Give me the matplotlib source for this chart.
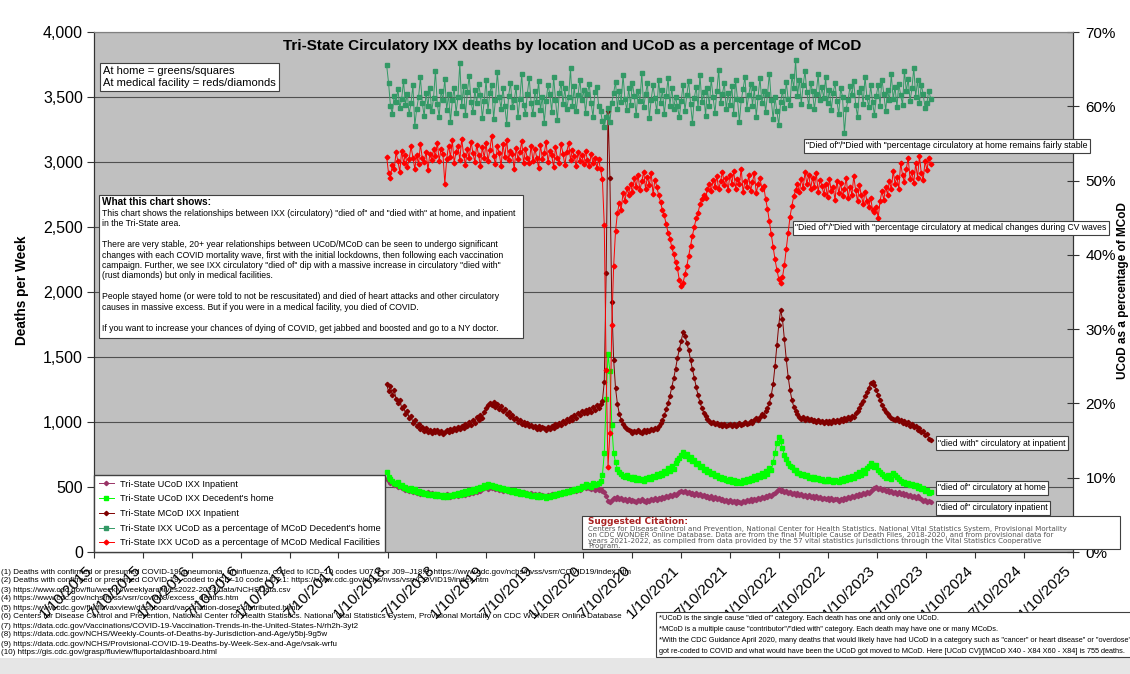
import numpy as np
import pandas as pd
import matplotlib
matplotlib.use('Agg')
import matplotlib.pyplot as plt
from matplotlib.patches import Rectangle
from matplotlib.ticker import FuncFormatter, MultipleLocator
from matplotlib.transforms import ScaledTranslation

W, H = 1130, 674

# weekly data, first week ending 2018-01-06
first_week = '2018-01-06'

tick_labels = ["1/10/2015", "7/10/2015", "1/10/2016", "7/10/2016", "1/10/2017",
               "7/10/2017", "1/10/2018", "7/10/2018", "1/10/2019", "7/10/2019",
               "1/10/2020", "7/10/2020", "1/10/2021", "7/10/2021", "1/10/2022",
               "7/10/2022", "1/10/2023", "7/10/2023", "1/10/2024", "7/10/2024",
               "1/10/2025"]

# deaths per week (left axis), one line per half year
ucod_inpatient = (
    [562, 548, 530, 541, 512, 526, 498, 517, 489, 503, 476, 492, 470, 481, 462, 474, 455, 468, 449, 461, 452, 445, 458, 440, 451, 437] +
    [446, 432, 441, 428, 437, 425, 443, 430, 421, 439, 427, 445, 433, 448, 438, 452, 441, 457, 446, 463, 455, 470, 461, 476, 468, 483] +
    [495, 510, 488, 502, 493, 507, 484, 497, 479, 490, 472, 486, 468, 480, 463, 474, 458, 470, 452, 465, 447, 460, 443, 455, 440, 451] +
    [436, 447, 431, 444, 428, 440, 434, 425, 439, 430, 445, 436, 450, 441, 456, 447, 462, 453, 469, 460, 475, 466, 481, 473, 488, 480] +
    [496, 508, 489, 502, 494, 485, 498, 479, 491, 474, 486, 470, 462, 430, 395, 382, 401, 418, 410, 423, 404, 416, 398, 411, 393, 405] +
    [389, 402, 395, 384, 398, 390, 405, 393, 386, 400, 392, 408, 397, 412, 403, 418, 409, 424, 415, 431, 422, 437, 429, 444, 436, 450] +
    [458, 471, 462, 468, 455, 464, 449, 457, 441, 452, 436, 445, 429, 439, 423, 432, 417, 427, 410, 421, 404, 414, 398, 409, 393, 402] +
    [388, 397, 383, 394, 379, 390, 385, 376, 392, 383, 398, 389, 404, 395, 411, 402, 418, 409, 425, 416, 433, 424, 441, 432, 449, 456] +
    [470, 482, 468, 476, 459, 470, 452, 463, 446, 457, 440, 451, 435, 446, 430, 441, 426, 437, 421, 432, 417, 428, 413, 424, 409, 419] +
    [405, 416, 401, 413, 398, 410, 404, 395, 409, 400, 415, 406, 421, 413, 428, 420, 436, 427, 444, 435, 452, 443, 461, 452, 470, 482] +
    [489, 497, 481, 490, 474, 484, 468, 477, 461, 471, 455, 464, 449, 458, 443, 452, 437, 446, 431, 440, 425, 434, 419, 428, 412, 406, 396, 403, 388, 395, 384]
)

ucod_home = (
    [615, 580, 562, 548, 530, 521, 538, 509, 516, 495, 503, 488, 476, 492, 468, 481, 459, 470, 452, 463, 447, 455, 441, 450, 436, 446] +
    [432, 444, 428, 439, 425, 436, 421, 433, 440, 427, 446, 435, 452, 441, 460, 449, 468, 456, 475, 464, 484, 472, 493, 481, 502, 491] +
    [512, 500, 521, 507, 515, 498, 509, 490, 501, 484, 495, 476, 488, 470, 480, 463, 474, 456, 466, 450, 460, 445, 453, 439, 447, 433] +
    [428, 441, 424, 437, 420, 433, 428, 418, 432, 423, 438, 429, 445, 436, 452, 443, 460, 451, 468, 459, 477, 468, 486, 476, 495, 485] +
    [510, 498, 522, 506, 515, 503, 527, 512, 521, 534, 548, 590, 760, 1180, 1520, 1390, 980, 760, 690, 642, 615, 598, 586, 574, 590, 568] +
    [580, 562, 575, 556, 569, 551, 563, 548, 572, 558, 579, 565, 588, 574, 598, 583, 610, 596, 625, 608, 643, 622, 664, 641, 688, 705] +
    [722, 748, 768, 741, 755, 719, 733, 697, 708, 675, 684, 652, 661, 631, 642, 615, 624, 598, 609, 584, 593, 571, 580, 562, 571, 553] +
    [545, 562, 538, 555, 531, 549, 541, 528, 553, 537, 561, 545, 570, 553, 581, 562, 592, 574, 606, 588, 622, 603, 645, 628, 690, 760] +
    [842, 885, 851, 798, 746, 712, 688, 665, 652, 634, 628, 611, 605, 592, 598, 581, 589, 572, 580, 565, 574, 558, 569, 553, 562, 548] +
    [548, 561, 544, 557, 540, 553, 547, 536, 558, 545, 566, 552, 575, 561, 586, 571, 598, 584, 612, 596, 628, 611, 648, 660, 682, 671] +
    [655, 668, 631, 612, 598, 585, 571, 590, 578, 562, 605, 592, 574, 560, 548, 531, 540, 522, 533, 515, 526, 508, 518, 496, 505, 485, 494, 470, 478, 452, 460]
)

mcod_inpatient = (
    [1290, 1235, 1275, 1210, 1245, 1180, 1150, 1172, 1108, 1125, 1064, 1082, 1030, 1046, 995, 1012, 968, 985, 948, 962, 934, 951, 925, 942, 918, 936] +
    [922, 940, 915, 931, 908, 926, 938, 920, 945, 928, 952, 936, 960, 944, 972, 955, 985, 966, 1001, 980, 1018, 995, 1036, 1012, 1055, 1030] +
    [1078, 1105, 1132, 1150, 1128, 1156, 1118, 1140, 1102, 1121, 1085, 1098, 1064, 1075, 1042, 1056, 1020, 1034, 1003, 1015, 988, 1001, 975, 990, 966, 980] +
    [958, 972, 950, 966, 945, 960, 953, 940, 962, 948, 970, 955, 981, 966, 994, 978, 1008, 990, 1022, 1004, 1037, 1018, 1053, 1034, 1070, 1052] +
    [1088, 1072, 1095, 1068, 1102, 1080, 1115, 1092, 1128, 1106, 1140, 1160, 1310, 2150, 3390, 2880, 1920, 1480, 1260, 1140, 1065, 1018, 985, 962, 948, 935] +
    [928, 915, 934, 921, 940, 926, 918, 935, 922, 941, 930, 948, 938, 957, 950, 972, 990, 1018, 1052, 1098, 1145, 1202, 1268, 1335, 1410, 1490] +
    [1560, 1625, 1690, 1665, 1610, 1552, 1478, 1405, 1340, 1268, 1205, 1152, 1108, 1072, 1045, 1022, 1005, 992, 1001, 985, 994, 978, 987, 970, 982, 966] +
    [975, 988, 970, 982, 966, 979, 990, 974, 985, 998, 981, 995, 1008, 990, 1015, 1028, 1012, 1040, 1062, 1048, 1085, 1110, 1148, 1205, 1290, 1430] +
    [1590, 1745, 1862, 1790, 1640, 1485, 1350, 1248, 1170, 1118, 1082, 1058, 1040, 1026, 1035, 1018, 1029, 1012, 1024, 1008, 1019, 1003, 1015, 998, 1011, 995] +
    [1004, 990, 1008, 994, 1012, 998, 1016, 1003, 1021, 1008, 1027, 1015, 1036, 1024, 1050, 1042, 1068, 1085, 1110, 1138, 1165, 1198, 1232, 1265, 1298, 1310] +
    [1285, 1248, 1205, 1168, 1130, 1102, 1078, 1060, 1043, 1031, 1020, 1012, 1028, 1005, 1018, 996, 1010, 985, 998, 972, 984, 958, 968, 940, 952, 921, 930, 898, 905, 872, 858]
)

# UCoD as % of MCoD (right axis)
pct_home = (
    [65.5, 63.2, 60.1, 59.0, 61.4, 60.6, 62.3, 59.8, 61.0, 63.4, 60.2, 61.7, 58.9, 60.5, 62.8, 57.4, 59.6, 61.2, 63.9, 60.4, 58.7, 61.8, 60.0, 62.5, 59.3, 61.1] +
    [64.8, 60.3, 58.6, 62.0, 60.9, 63.7, 59.5, 61.6, 57.9, 60.8, 62.4, 59.1, 61.3, 65.8, 60.0, 62.7, 58.8, 61.9, 64.1, 60.6, 59.2, 62.2, 60.4, 63.0, 61.5, 58.4] +
    [60.7, 63.5, 59.4, 61.8, 62.9, 58.3, 60.9, 64.6, 61.2, 59.7, 62.5, 60.1, 57.6, 61.4, 63.2, 59.9, 60.8, 62.6, 58.5, 61.0, 64.3, 60.2, 59.0, 61.7, 63.8, 60.5] +
    [58.9, 62.1, 60.6, 63.4, 59.5, 61.3, 57.8, 60.7, 62.9, 61.6, 59.2, 64.0, 60.9, 58.1, 61.8, 63.1, 60.3, 62.4, 59.6, 61.2, 65.1, 60.0, 62.7, 59.3, 61.5, 63.6] +
    [60.8, 62.2, 59.1, 61.7, 63.0, 60.4, 58.6, 61.9, 62.6, 60.1, 59.4, 58.0, 57.2, 58.6, 59.8, 57.9, 60.5, 61.8, 63.3, 59.7, 62.1, 60.6, 64.2, 61.0, 59.5, 62.4] +
    [60.2, 63.1, 61.4, 58.8, 62.0, 60.7, 64.5, 59.9, 61.6, 63.2, 58.4, 60.9, 62.8, 61.1, 59.3, 63.6, 60.5, 62.2, 58.9, 61.4, 63.8, 60.1, 62.5, 59.6, 61.3, 60.0] +
    [58.5, 60.7, 62.9, 59.4, 61.5, 63.4, 60.3, 57.8, 61.1, 62.6, 59.8, 64.2, 60.6, 61.9, 58.7, 62.4, 60.0, 63.7, 61.2, 59.1, 62.0, 64.9, 60.4, 61.7, 63.1, 59.6] +
    [61.8, 60.2, 62.7, 59.0, 63.5, 61.0, 57.9, 60.8, 62.3, 64.0, 59.7, 61.5, 63.0, 60.1, 62.4, 58.6, 61.3, 63.8, 60.5, 62.0, 59.2, 61.6, 64.4, 60.9, 58.3, 61.2] +
    [59.4, 57.5, 60.6, 62.1, 59.8, 63.3, 61.0, 60.2, 64.1, 62.5, 66.2, 61.4, 63.6, 60.3, 62.8, 64.7, 61.9, 60.0, 63.2, 62.0, 59.6, 61.7, 64.3, 60.8, 62.6, 61.1] +
    [63.9, 60.4, 62.2, 59.5, 61.8, 63.1, 60.7, 58.9, 62.4, 61.3, 56.4, 59.7, 60.9, 62.7, 61.5, 63.4, 60.2, 58.6, 61.9, 62.5, 60.3, 64.0, 61.2, 59.9, 62.8, 60.6] +
    [58.8, 61.4, 62.9, 60.1, 63.6, 61.7, 59.4, 62.2, 60.8, 64.3, 61.0, 62.6, 59.9, 63.0, 61.5, 60.2, 64.8, 62.0, 63.7, 60.7, 62.4, 65.2, 61.3, 63.5, 60.4, 62.9, 61.6, 59.8, 60.5, 62.1, 61.0]
)

pct_medical = (
    [53.2, 51.0, 50.4, 52.1, 51.5, 53.8, 52.6, 51.2, 54.0, 52.4, 53.5, 51.8, 52.9, 54.6, 53.1, 51.6, 53.4, 52.2, 54.9, 53.0, 52.5, 53.9, 51.4, 53.6, 52.8, 54.2] +
    [53.3, 55.1, 52.7, 54.3, 53.6, 49.6, 52.9, 54.7, 53.2, 55.4, 52.4, 53.9, 54.6, 52.8, 55.6, 53.5, 52.1, 54.2, 53.0, 55.2, 53.7, 52.5, 54.8, 53.4, 52.0, 54.5] +
    [53.1, 55.0, 52.6, 54.1, 56.0, 53.3, 52.2, 54.6, 53.7, 51.9, 54.9, 53.2, 55.5, 52.8, 54.0, 53.6, 51.5, 54.4, 52.9, 53.8, 55.3, 52.3, 54.2, 53.0, 52.4, 54.7] +
    [52.6, 54.3, 53.1, 51.7, 54.8, 52.9, 53.7, 55.2, 52.5, 54.0, 53.4, 51.8, 54.5, 53.0, 52.3, 54.9, 53.6, 52.1, 53.9, 55.0, 52.8, 54.1, 53.3, 51.9, 53.8, 52.7] +
    [53.5, 52.2, 54.0, 52.8, 51.9, 53.6, 52.4, 53.1, 51.7, 52.9, 51.5, 50.2, 44.0, 24.5, 11.5, 16.0, 30.5, 38.5, 43.2, 45.6, 47.0, 46.1, 48.3, 47.2, 49.0, 48.1] +
    [49.6, 48.4, 50.3, 49.1, 50.8, 48.7, 49.9, 51.2, 48.9, 50.5, 49.4, 51.0, 48.2, 50.1, 49.2, 48.0, 47.1, 46.0, 45.3, 44.1, 43.0, 42.2, 41.0, 40.1, 39.0, 38.2] +
    [36.6, 35.8, 36.2, 37.4, 38.5, 39.9, 41.2, 42.6, 43.8, 44.9, 45.7, 46.8, 47.5, 48.1, 47.6, 48.9, 49.5, 48.6, 50.1, 49.2, 50.6, 48.8, 49.9, 51.2, 49.4, 50.3] +
    [48.7, 50.8, 49.6, 51.3, 48.9, 50.2, 49.5, 51.6, 48.4, 50.0, 49.1, 50.7, 48.6, 49.8, 51.0, 48.3, 49.5, 50.4, 48.8, 49.3, 47.5, 46.2, 44.5, 42.8, 41.0, 39.4] +
    [38.0, 36.8, 36.2, 37.0, 38.6, 40.8, 43.0, 45.1, 46.6, 47.9, 48.7, 49.5, 48.4, 50.2, 49.0, 51.1, 49.6, 50.8, 48.9, 50.4, 49.2, 51.0, 48.5, 50.1, 49.3, 48.2] +
    [49.5, 47.8, 50.2, 48.6, 49.1, 47.4, 50.0, 48.3, 49.7, 47.9, 48.8, 50.4, 47.6, 49.2, 48.1, 50.6, 48.7, 47.2, 49.4, 48.0, 46.9, 48.5, 47.3, 46.4, 47.7, 46.0] +
    [45.8, 46.5, 45.0, 47.2, 48.6, 47.4, 49.2, 48.1, 50.0, 48.8, 51.3, 49.6, 50.5, 48.9, 52.4, 50.7, 49.8, 51.6, 53.0, 50.2, 51.1, 49.7, 52.3, 50.4, 53.3, 51.0, 50.1, 52.6, 51.4, 53.1, 52.2]
)

title = "Tri-State Circulatory IXX deaths by location and UCoD as a percentage of MCoD"

explain_lines = [
    'This chart shows the relationships between IXX (circulatory) "died of" and "died with" at home, and inpatient',
    'in the Tri-State area.',
    '',
    'There are very stable, 20+ year relationships between UCoD/MCoD can be seen to undergo significant',
    'changes with each COVID mortality wave, first with the initial lockdowns, then following each vaccination',
    'campaign. Further, we see IXX circulatory "died of" dip with a massive increase in circulatory "died with"',
    '(rust diamonds) but only in medical facilities.',
    '',
    'People stayed home (or were told to not be rescusitated) and died of heart attacks and other circulatory',
    'causes in massive excess. But if you were in a medical facility, you died of COVID.',
    '',
    'If you want to increase your chances of dying of COVID, get jabbed and boosted and go to a NY doctor.',
]

sources = [
    "(1) Deaths with confirmed or presumed COVID-19, pneumonia, or influenza, coded to ICD\u201310 codes U07.1 or J09\u2013J18.9: https://www.cdc.gov/nchs/nvss/vsrr/COVID19/index.htm",
    "(2) Deaths with confirmed or presumed COVID-19, coded to ICD\u201310 code U07.1: https://www.cdc.gov/nchs/nvss/vsrr/COVID19/index.htm",
    "(3) https://www.cdc.gov/flu/weekly/weeklyarchives2022-2023/data/NCHSData.csv",
    "(4) https://www.cdc.gov/nchs/nvss/vsrr/covid19/excess_deaths.htm",
    "(5) https://www.cdc.gov/flu/fluvaxview/dashboard/vaccination-doses-distributed.html",
    "(6) Centers for Disease Control and Prevention, National Center for Health Statistics. National Vital Statistics System, Provisional Mortality on CDC WONDER Online Database",
    "(7) https://data.cdc.gov/Vaccinations/COVID-19-Vaccination-Trends-in-the-United-States-N/rh2h-3yt2",
    "(8) https://data.cdc.gov/NCHS/Weekly-Counts-of-Deaths-by-Jurisdiction-and-Age/y5bj-9g5w",
    "(9) https://data.cdc.gov/NCHS/Provisional-COVID-19-Deaths-by-Week-Sex-and-Age/vsak-wrfu",
    "(10) https://gis.cdc.gov/grasp/fluview/fluportaldashboard.html",
]

notes = [
    '*UCoD is the single cause "died of" category. Each death has one and only one UCoD.',
    '*MCoD is a multiple cause "contributor"/"died with" category. Each death may have one or many MCoDs.',
    '*With the CDC Guidance April 2020, many deaths that would likely have had UCoD in a category such as "cancer" or heart disease" or "overdose"',
    'got re-coded to COVID and what would have been the UCoD got moved to MCoD. Here [UCoD CV]/[MCoD X40 - X84 X60 - X84] is 755 deaths.',
]

citation_lines = [
    "Centers for Disease Control and Prevention, National Center for Health Statistics. National Vital Statistics System, Provisional Mortality",
    "on CDC WONDER Online Database. Data are from the final Multiple Cause of Death Files, 2018-2020, and from provisional data for",
    "years 2021-2022, as compiled from data provided by the 57 vital statistics jurisdictions through the Vital Statistics Cooperative",
    "Program.",
]

plt.rcParams['font.family'] = ['Liberation Sans', 'DejaVu Sans']


def fx(x):
    return x / W


def fy(y):
    return 1 - y / H


def weeks(values):
    return pd.date_range(first_week, periods=len(values), freq='7D')


box = dict(boxstyle='square,pad=0.25', fc='white', ec='#404040', lw=0.8)

fig = plt.figure(figsize=(W / 100, H / 100), dpi=100)
ax = fig.add_axes([fx(94), fy(552), (1073 - 94) / W, (552 - 32) / H])
ax.set_facecolor('#c0c0c0')
ax2 = ax.twinx()

ax.plot(weeks(ucod_inpatient), ucod_inpatient, color='#993366', marker='D', ms=2.2, lw=0.7,
        label="Tri-State UCoD IXX Inpatient")
ax.plot(weeks(ucod_home), ucod_home, color='#00ff00', marker='s', ms=3.0, lw=0.7,
        label="Tri-State UCoD IXX Decedent's home")
ax.plot(weeks(mcod_inpatient), mcod_inpatient, color='#800000', marker='D', ms=2.2, lw=0.7,
        label="Tri-State MCoD IXX Inpatient")
ax2.plot(weeks(pct_home), pct_home, color='#339966', marker='s', ms=2.6, lw=0.7,
         label="Tri-State IXX UCoD as a percentage of MCoD Decedent's home")
ax2.plot(weeks(pct_medical), pct_medical, color='#ff0000', marker='D', ms=2.4, lw=0.7,
         label="Tri-State IXX UCoD as a percentage of MCoD Medical Facilities")

tick_dates = pd.to_datetime(tick_labels, format='%m/%d/%Y')
ax.set_xlim(tick_dates[0], tick_dates[-1])
ax.set_xticks(tick_dates)
ax.set_xticklabels(tick_labels, rotation=45, ha='right', va='top', rotation_mode='anchor', fontsize=11)
ax.tick_params(axis='x', length=4, pad=4, color='#333333')
shift = ScaledTranslation(-0.09, 0, fig.dpi_scale_trans)
for lbl in ax.get_xticklabels():
    lbl.set_transform(lbl.get_transform() + shift)

ax.set_ylim(0, 4000)
ax.yaxis.set_major_locator(MultipleLocator(500))
ax.yaxis.set_major_formatter(FuncFormatter(lambda v, p: f'{v:,.0f}'))
ax.tick_params(axis='y', labelsize=11.5, length=5, pad=3, color='#333333')
ax.grid(axis='y', color='#505050', lw=0.8)
ax.set_axisbelow(True)

ax2.set_ylim(0, 70)
ax2.yaxis.set_major_locator(MultipleLocator(10))
ax2.yaxis.set_major_formatter(FuncFormatter(lambda v, p: f'{v:.0f}%'))
ax2.tick_params(axis='y', labelsize=11, direction='inout', length=8, pad=5, color='#333333')

for a in (ax, ax2):
    for side in ('left', 'right', 'bottom'):
        a.spines[side].set_color('#333333')
    a.spines['top'].set_color('#808080')

h1, l1 = ax.get_legend_handles_labels()
h2, l2 = ax2.get_legend_handles_labels()
leg = ax2.legend(h1 + h2, l1 + l2, loc='lower left', bbox_to_anchor=(0, 0), borderaxespad=0,
                 fontsize=6.6, handlelength=1.7, handletextpad=0.6, labelspacing=0.62,
                 borderpad=0.5, fancybox=False, framealpha=1, edgecolor='#404040')
leg.get_frame().set_linewidth(1)
leg.set_zorder(10)

fig.text(fx(572), fy(46), title, ha='center', va='center', fontsize=11, fontweight='bold')
fig.text(fx(22), fy(290), 'Deaths per Week', rotation=90, ha='center', va='center',
         fontsize=9.8, fontweight='bold')
fig.text(fx(1123), fy(291), 'UCoD as a percentage of MCoD', rotation=90, ha='center',
         va='center', fontsize=8.5, fontweight='bold')

fig.text(fx(103), fy(77), 'At home = greens/squares\nAt medical facility = reds/diamonds',
         ha='left', va='center', fontsize=8, linespacing=1.25, bbox=box)

# explanation box
fig.add_artist(Rectangle((fx(99), fy(338)), fx(523) - fx(99), fy(195) - fy(338),
                         transform=fig.transFigure, fc='white', ec='#404040', lw=0.8, zorder=3))
fig.text(fx(102), fy(202), 'What this chart shows:', ha='left', va='center', fontsize=7.2,
         fontweight='bold', zorder=4)
for i, line in enumerate(explain_lines):
    fig.text(fx(102), fy(213 + i * 10.5), line, ha='left', va='center', fontsize=6.2, zorder=4)

# annotations on the right
fig.text(fx(806), fy(146), '"Died of"/"Died with "percentage circulatory at home remains fairly stable',
         ha='left', va='center', fontsize=6.3, bbox=box)
fig.text(fx(795), fy(228), '"Died of"/"Died with "percentage circulatory at medical changes during CV waves',
         ha='left', va='center', fontsize=6.25, bbox=box)
fig.text(fx(938), fy(443), '"died with" circulatory at inpatient', ha='left', va='center', fontsize=6.2, bbox=box)
fig.text(fx(938), fy(488), '"died of" circulatory at home', ha='left', va='center', fontsize=6.2, bbox=box)
fig.text(fx(938), fy(508), '"died of" circulatory inpatient', ha='left', va='center', fontsize=6.2, bbox=box)

# suggested citation
fig.add_artist(Rectangle((fx(582), fy(549)), fx(1120) - fx(582), fy(516) - fy(549),
                         transform=fig.transFigure, fc='white', ec='#404040', lw=0.8, zorder=3))
fig.text(fx(588), fy(522), 'Suggested Citation:', ha='left', va='center', fontsize=6.4,
         fontweight='bold', color='#aa2222', family='DejaVu Sans', zorder=4)
for i, line in enumerate(citation_lines):
    fig.text(fx(588), fy(529.5 + i * 5.6), line, ha='left', va='center', fontsize=5.1,
             color='#555555', family='DejaVu Sans', zorder=4)

# sources on the lower left
for i, line in enumerate(sources):
    fig.text(fx(1), fy(572 + i * 9), line, ha='left', va='center', fontsize=5.8)

# notes box on the lower right
fig.add_artist(Rectangle((fx(656), fy(657)), fx(1135) - fx(656), fy(612) - fy(657),
                         transform=fig.transFigure, fc='white', ec='#404040', lw=0.8, zorder=3))
for i, line in enumerate(notes):
    fig.text(fx(659), fy(619 + i * 10.8), line, ha='left', va='center', fontsize=5.35, zorder=4)

fig.add_artist(Rectangle((0, 0), 1, 16 / H, transform=fig.transFigure, fc='#e6e6e6',
                         ec='none', zorder=0.5))

fig.savefig('out.png', dpi=100)
